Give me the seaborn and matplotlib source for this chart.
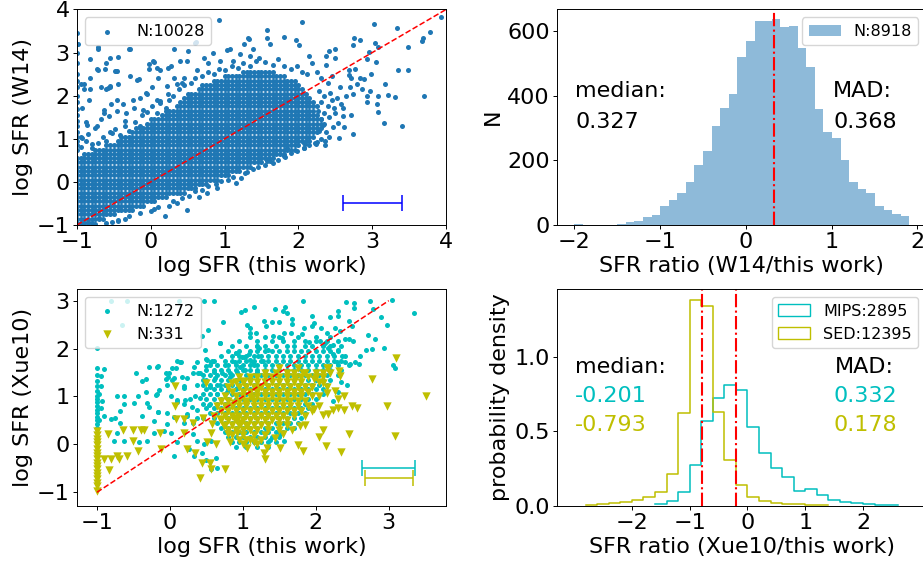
import pandas as pd
import matplotlib
matplotlib.use("Agg")
import matplotlib.pyplot as plt
import matplotlib.patches as mpatches
import seaborn as sns

# ---------------- data: top-left (W14 vs this work) ----------------
w14_label = "N:10028"
# dense core, one list of x values per y row
w14_rows_y = [-0.95, -0.85, -0.75, -0.65, -0.55, -0.45, -0.35, -0.25, -0.15, -0.05,
              0.05, 0.15, 0.25, 0.35, 0.45, 0.55, 0.65, 0.75, 0.85, 0.95, 1.05, 1.15,
              1.25, 1.35, 1.45, 1.55, 1.65, 1.75, 1.85, 1.95, 2.05, 2.15, 2.25, 2.35,
              2.45, 2.55]
w14_rows_x = [
    [-1, -.95, -.9, -.85, -.8],
    [-1, -.95, -.9, -.85, -.8, -.75, -.7, -.65],
    [-1, -.95, -.9, -.85, -.8, -.75, -.7, -.65, -.6, -.55, -.5],
    [-1, -.95, -.9, -.85, -.8, -.75, -.7, -.65, -.6, -.55, -.5, -.45, -.4, -.35, -.3, -.25],
    [-1, -.95, -.9, -.85, -.8, -.75, -.7, -.65, -.6, -.55, -.5, -.45, -.4, -.35, -.3, -.25, -.2, -.15, -.1],
    [-1, -.95, -.9, -.85, -.8, -.75, -.7, -.65, -.6, -.55, -.5, -.45, -.4, -.35, -.3, -.25, -.2, -.15, -.1,
     -.05, 0, .05],
    [-1, -.95, -.9, -.85, -.8, -.75, -.7, -.65, -.6, -.55, -.5, -.45, -.4, -.35, -.3, -.25, -.2, -.15, -.1,
     -.05, 0, .05, .1, .15, .2],
    [-1, -.95, -.9, -.85, -.8, -.75, -.7, -.65, -.6, -.55, -.5, -.45, -.4, -.35, -.3, -.25, -.2, -.15, -.1,
     -.05, 0, .05, .1, .15, .2, .25, .3, .35, .4, .45],
    [-1, -.95, -.9, -.85, -.8, -.75, -.7, -.65, -.6, -.55, -.5, -.45, -.4, -.35, -.3, -.25, -.2, -.15, -.1,
     -.05, 0, .05, .1, .15, .2, .25, .3, .35, .4, .45, .5, .55, .6],
    [-1, -.95, -.9, -.85, -.8, -.75, -.7, -.65, -.6, -.55, -.5, -.45, -.4, -.35, -.3, -.25, -.2, -.15, -.1,
     -.05, 0, .05, .1, .15, .2, .25, .3, .35, .4, .45, .5, .55, .6, .65, .7, .75],
    [-1, -.95, -.9, -.85, -.8, -.75, -.7, -.65, -.6, -.55, -.5, -.45, -.4, -.35, -.3, -.25, -.2, -.15, -.1,
     -.05, 0, .05, .1, .15, .2, .25, .3, .35, .4, .45, .5, .55, .6, .65, .7, .75, .8, .85, .9],
    [-1, -.95, -.9, -.85, -.8, -.75, -.7, -.65, -.6, -.55, -.5, -.45, -.4, -.35, -.3, -.25, -.2, -.15, -.1,
     -.05, 0, .05, .1, .15, .2, .25, .3, .35, .4, .45, .5, .55, .6, .65, .7, .75, .8, .85, .9, .95, 1,
     1.05],
    [-1, -.95, -.9, -.85, -.8, -.75, -.7, -.65, -.6, -.55, -.5, -.45, -.4, -.35, -.3, -.25, -.2, -.15, -.1,
     -.05, 0, .05, .1, .15, .2, .25, .3, .35, .4, .45, .5, .55, .6, .65, .7, .75, .8, .85, .9, .95, 1,
     1.05, 1.1, 1.15, 1.2],
    [-1, -.95, -.9, -.85, -.8, -.75, -.7, -.65, -.6, -.55, -.5, -.45, -.4, -.35, -.3, -.25, -.2, -.15, -.1,
     -.05, 0, .05, .1, .15, .2, .25, .3, .35, .4, .45, .5, .55, .6, .65, .7, .75, .8, .85, .9, .95, 1,
     1.05, 1.1, 1.15, 1.2, 1.25, 1.3, 1.35],
    [-1, -.95, -.9, -.85, -.8, -.75, -.7, -.65, -.6, -.55, -.5, -.45, -.4, -.35, -.3, -.25, -.2, -.15, -.1,
     -.05, 0, .05, .1, .15, .2, .25, .3, .35, .4, .45, .5, .55, .6, .65, .7, .75, .8, .85, .9, .95, 1,
     1.05, 1.1, 1.15, 1.2, 1.25, 1.3, 1.35, 1.4, 1.45, 1.5],
    [-1, -.95, -.9, -.85, -.8, -.75, -.7, -.65, -.6, -.55, -.5, -.45, -.4, -.35, -.3, -.25, -.2, -.15, -.1,
     -.05, 0, .05, .1, .15, .2, .25, .3, .35, .4, .45, .5, .55, .6, .65, .7, .75, .8, .85, .9, .95, 1,
     1.05, 1.1, 1.15, 1.2, 1.25, 1.3, 1.35, 1.4, 1.45, 1.5, 1.55, 1.6, 1.65],
    [-.9, -.85, -.8, -.75, -.7, -.65, -.6, -.55, -.5, -.45, -.4, -.35, -.3, -.25, -.2, -.15, -.1,
     -.05, 0, .05, .1, .15, .2, .25, .3, .35, .4, .45, .5, .55, .6, .65, .7, .75, .8, .85, .9, .95, 1,
     1.05, 1.1, 1.15, 1.2, 1.25, 1.3, 1.35, 1.4, 1.45, 1.5, 1.55, 1.6, 1.65, 1.7, 1.75, 1.8],
    [-.75, -.7, -.65, -.6, -.55, -.5, -.45, -.4, -.35, -.3, -.25, -.2, -.15, -.1,
     -.05, 0, .05, .1, .15, .2, .25, .3, .35, .4, .45, .5, .55, .6, .65, .7, .75, .8, .85, .9, .95, 1,
     1.05, 1.1, 1.15, 1.2, 1.25, 1.3, 1.35, 1.4, 1.45, 1.5, 1.55, 1.6, 1.65, 1.7, 1.75, 1.8, 1.85, 1.9,
     1.95],
    [-.6, -.55, -.5, -.45, -.4, -.35, -.3, -.25, -.2, -.15, -.1,
     -.05, 0, .05, .1, .15, .2, .25, .3, .35, .4, .45, .5, .55, .6, .65, .7, .75, .8, .85, .9, .95, 1,
     1.05, 1.1, 1.15, 1.2, 1.25, 1.3, 1.35, 1.4, 1.45, 1.5, 1.55, 1.6, 1.65, 1.7, 1.75, 1.8, 1.85, 1.9,
     1.95, 2],
    [-.45, -.4, -.35, -.3, -.25, -.2, -.15, -.1,
     -.05, 0, .05, .1, .15, .2, .25, .3, .35, .4, .45, .5, .55, .6, .65, .7, .75, .8, .85, .9, .95, 1,
     1.05, 1.1, 1.15, 1.2, 1.25, 1.3, 1.35, 1.4, 1.45, 1.5, 1.55, 1.6, 1.65, 1.7, 1.75, 1.8, 1.85, 1.9,
     1.95, 2, 2.05, 2.1, 2.15],
    [-.4, -.35, -.3, -.25, -.2, -.15, -.1,
     -.05, 0, .05, .1, .15, .2, .25, .3, .35, .4, .45, .5, .55, .6, .65, .7, .75, .8, .85, .9, .95, 1,
     1.05, 1.1, 1.15, 1.2, 1.25, 1.3, 1.35, 1.4, 1.45, 1.5, 1.55, 1.6, 1.65, 1.7, 1.75, 1.8, 1.85, 1.9,
     1.95, 2, 2.05, 2.1, 2.15, 2.2],
    [-.25, -.2, -.15, -.1,
     -.05, 0, .05, .1, .15, .2, .25, .3, .35, .4, .45, .5, .55, .6, .65, .7, .75, .8, .85, .9, .95, 1,
     1.05, 1.1, 1.15, 1.2, 1.25, 1.3, 1.35, 1.4, 1.45, 1.5, 1.55, 1.6, 1.65, 1.7, 1.75, 1.8, 1.85, 1.9,
     1.95, 2, 2.05, 2.1, 2.15, 2.2, 2.25],
    [-.2, -.15, -.1,
     -.05, 0, .05, .1, .15, .2, .25, .3, .35, .4, .45, .5, .55, .6, .65, .7, .75, .8, .85, .9, .95, 1,
     1.05, 1.1, 1.15, 1.2, 1.25, 1.3, 1.35, 1.4, 1.45, 1.5, 1.55, 1.6, 1.65, 1.7, 1.75, 1.8, 1.85, 1.9,
     1.95, 2, 2.05, 2.1, 2.15, 2.2, 2.25, 2.3],
    [-.05, 0, .05, .1, .15, .2, .25, .3, .35, .4, .45, .5, .55, .6, .65, .7, .75, .8, .85, .9, .95, 1,
     1.05, 1.1, 1.15, 1.2, 1.25, 1.3, 1.35, 1.4, 1.45, 1.5, 1.55, 1.6, 1.65, 1.7, 1.75, 1.8, 1.85, 1.9,
     1.95, 2, 2.05, 2.1, 2.15, 2.2, 2.25, 2.3, 2.35],
    [0, .05, .1, .15, .2, .25, .3, .35, .4, .45, .5, .55, .6, .65, .7, .75, .8, .85, .9, .95, 1,
     1.05, 1.1, 1.15, 1.2, 1.25, 1.3, 1.35, 1.4, 1.45, 1.5, 1.55, 1.6, 1.65, 1.7, 1.75, 1.8, 1.85, 1.9,
     1.95, 2, 2.05, 2.1, 2.15, 2.2, 2.25, 2.3],
    [.15, .2, .25, .3, .35, .4, .45, .5, .55, .6, .65, .7, .75, .8, .85, .9, .95, 1,
     1.05, 1.1, 1.15, 1.2, 1.25, 1.3, 1.35, 1.4, 1.45, 1.5, 1.55, 1.6, 1.65, 1.7, 1.75, 1.8, 1.85, 1.9,
     1.95, 2, 2.05, 2.1, 2.15, 2.2, 2.25],
    [.2, .25, .3, .35, .4, .45, .5, .55, .6, .65, .7, .75, .8, .85, .9, .95, 1,
     1.05, 1.1, 1.15, 1.2, 1.25, 1.3, 1.35, 1.4, 1.45, 1.5, 1.55, 1.6, 1.65, 1.7, 1.75, 1.8, 1.85, 1.9,
     1.95, 2, 2.05, 2.1, 2.15, 2.2],
    [.35, .4, .45, .5, .55, .6, .65, .7, .75, .8, .85, .9, .95, 1,
     1.05, 1.1, 1.15, 1.2, 1.25, 1.3, 1.35, 1.4, 1.45, 1.5, 1.55, 1.6, 1.65, 1.7, 1.75, 1.8, 1.85, 1.9,
     1.95, 2, 2.05, 2.1, 2.15, 2.2, 2.25],
    [.4, .45, .5, .55, .6, .65, .7, .75, .8, .85, .9, .95, 1,
     1.05, 1.1, 1.15, 1.2, 1.25, 1.3, 1.35, 1.4, 1.45, 1.5, 1.55, 1.6, 1.65, 1.7, 1.75, 1.8, 1.85, 1.9,
     1.95, 2, 2.05, 2.1, 2.15, 2.2],
    [.45, .5, .55, .6, .65, .7, .75, .8, .85, .9, .95, 1,
     1.05, 1.1, 1.15, 1.2, 1.25, 1.3, 1.35, 1.4, 1.45, 1.5, 1.55, 1.6, 1.65, 1.7, 1.75, 1.8, 1.85, 1.9,
     1.95, 2, 2.05, 2.1, 2.15],
    [.5, .55, .6, .65, .7, .75, .8, .85, .9, .95, 1,
     1.05, 1.1, 1.15, 1.2, 1.25, 1.3, 1.35, 1.4, 1.45, 1.5, 1.55, 1.6, 1.65, 1.7, 1.75, 1.8, 1.85, 1.9,
     1.95, 2, 2.05, 2.1],
    [.65, .7, .75, .8, .85, .9, .95, 1,
     1.05, 1.1, 1.15, 1.2, 1.25, 1.3, 1.35, 1.4, 1.45, 1.5, 1.55, 1.6, 1.65, 1.7, 1.75, 1.8, 1.85, 1.9,
     1.95, 2, 2.05],
    [.7, .75, .8, .85, .9, .95, 1,
     1.05, 1.1, 1.15, 1.2, 1.25, 1.3, 1.35, 1.4, 1.45, 1.5, 1.55, 1.6, 1.65, 1.7, 1.75, 1.8, 1.85, 1.9,
     1.95, 2],
    [.85, .9, .95, 1,
     1.05, 1.1, 1.15, 1.2, 1.25, 1.3, 1.35, 1.4, 1.45, 1.5, 1.55, 1.6, 1.65, 1.7, 1.75, 1.8, 1.85, 1.9,
     1.95],
    [1, 1.05, 1.1, 1.15, 1.2, 1.25, 1.3, 1.35, 1.4, 1.45, 1.5, 1.55, 1.6, 1.65, 1.7, 1.75, 1.8],
    [1.25, 1.3, 1.35, 1.4, 1.45, 1.5, 1.55, 1.6, 1.65],
]
# scattered points around the core
w14_sparse = [
    (-1, 0.75), (-1, 0.85), (-1, 0.95), (-1, 1.05), (-1, 1.15), (-1, 1.3), (-1, 1.42), (-1, 1.55),
    (-1, 1.7), (-1, 1.85), (-1, 2.0), (-1, 2.2), (-1, 2.35), (-1, 2.5), (-1, 2.75), (-1, 3.0),
    (-1, 3.2), (-1, 3.45),
    (-0.99, 3.19), (-0.82, 2.84), (-0.71, 3.09), (-0.61, 2.76), (-0.44, 2.9), (-0.28, 3.09),
    (-0.95, 2.26), (-0.83, 2.16), (-0.71, 2.6), (-0.55, 2.2), (-0.48, 2.57), (-0.46, 1.91),
    (-0.58, 2.18), (-0.19, 2.37), (0.03, 2.8), (0.12, 2.6), (0.28, 2.68), (0.39, 2.8), (0.51, 3.03),
    (0.61, 3.24), (0.62, 2.6), (0.78, 2.76), (1.03, 3.07), (1.32, 3.34), (0.92, 3.75), (-0.88, 1.4),
    (-0.94, 1.05), (-0.73, 1.29), (-0.64, 1.67), (-0.53, 1.13), (-0.33, 1.6), (-0.24, 1.91),
    (-0.06, 2.06), (-0.1, 1.67), (0.08, 1.91), (0.22, 2.22), (0.31, 2.41), (0.42, 2.29),
    (0.04, 2.78), (0.08, 2.65), (0.24, 2.65), (-0.03, 2.61), (0.1, 2.4), (0.02, 2.19), (-0.05, 2.05),
    (-0.15, 1.95), (-0.23, 1.72), (-0.16, 2.38), (-0.28, 2.46), (-0.46, 2.57), (-0.55, 2.22),
    (-0.6, 2.15), (-0.54, 1.8), (-0.64, 1.6), (-0.57, 1.53), (-0.46, 1.64), (-0.37, 1.8),
    (-0.35, 1.41), (-0.73, 2.61), (-0.82, 2.42), (-0.68, 2.19), (-0.91, 2.26), (-0.84, 1.91),
    (-0.93, 1.72), (-0.86, 1.33), (-0.75, 1.26), (-0.68, 1.45), (-0.93, 1.02), (-0.8, 0.87),
    (0.31, 3.08), (0.49, 2.81), (0.6, 3.23), (0.72, 2.88), (0.84, 3.0), (0.94, 2.81), (1.08, 3.08),
    (1.12, 2.81), (1.26, 3.19), (1.33, 3.31), (1.21, 2.96), (1.35, 2.92), (1.39, 3.08), (1.46, 2.88),
    (-0.71, 3.12), (-0.3, 3.08), (-0.55, 2.88), (-0.62, 2.61), (-0.47, 2.57), (-0.44, 2.26),
    (-0.02, 2.73), (0.45, 2.42), (0.36, 2.26), (0.24, 2.03), (0.13, 1.88), (0.2, 1.72), (-0.91, 2.15),
    (-0.95, 0.8), (-0.88, 0.95), (-0.8, 0.78), (-0.72, 0.9), (-0.65, 1.05), (-0.85, 1.1), (-0.6, 0.95),
    (-0.55, 1.15), (-0.48, 1.22), (-0.42, 1.08), (-0.35, 1.3), (-0.3, 1.18), (-0.22, 1.4),
    (-0.15, 1.3), (-0.12, 1.55), (-0.05, 1.62), (0.02, 1.75), (0.08, 1.6), (0.12, 1.82), (0.25, 1.9),
    (0.3, 2.0), (0.38, 2.15), (0.45, 2.25), (0.55, 2.3), (0.6, 2.4), (0.7, 2.45), (0.78, 2.55),
    (0.85, 2.5), (0.92, 2.62), (1.0, 2.6), (1.1, 2.7), (1.18, 2.65), (1.25, 2.75), (1.35, 2.7),
    (1.42, 2.8), (1.55, 2.78), (1.65, 2.72), (1.72, 2.85), (1.8, 2.68), (1.9, 2.62), (1.98, 2.7),
    (2.05, 2.55), (2.12, 2.5),
    (2.05, 3.70), (1.57, 3.53), (1.57, 3.33), (1.81, 3.36), (1.97, 3.29), (2.01, 3.17), (1.61, 3.19),
    (3.02, 3.66), (3.34, 3.57), (3.93, 3.83), (3.78, 3.47), (3.69, 3.35), (3.67, 3.26), (3.48, 3.14),
    (3.35, 2.59), (3.49, 2.59), (3.70, 1.99), (2.75, 3.33), (2.84, 3.29), (2.74, 3.17), (3.04, 3.23),
    (3.08, 3.13), (2.95, 3.02), (2.93, 2.85), (3.05, 2.79), (2.98, 2.51), (3.17, 2.28), (3.08, 1.99),
    (3.21, 2.01), (3.31, 1.97), (3.06, 1.8), (3.08, 1.63), (3.16, 1.37), (3.4, 1.29), (2.97, 2.11),
    (2.93, 2.0), (2.93, 1.86), (2.74, 1.12), (2.71, 1.55), (2.61, 1.54), (2.55, 1.02), (2.62, 1.27),
    (2.36, 0.85), (2.24, 0.88), (2.41, 1.05), (2.47, 1.27), (2.54, 1.37), (2.5, 3.09), (2.5, 2.88),
    (2.37, 2.71), (2.42, 3.04), (2.15, 2.92), (2.18, 2.77), (2.37, 2.92), (2.69, 2.59), (2.77, 2.63),
    (2.68, 2.47), (2.71, 2.42), (2.83, 2.42), (2.89, 2.38), (2.79, 2.28), (2.86, 2.16), (2.7, 2.19),
    (2.56, 2.19), (2.65, 1.99), (2.74, 2.05), (2.58, 1.8), (2.61, 1.72), (2.52, 1.95), (2.43, 2.07),
    (2.48, 1.72), (2.3, 1.45), (2.35, 1.6), (2.4, 1.75), (2.3, 1.85), (2.45, 1.9), (2.35, 2.0),
    (2.28, 2.12), (2.4, 2.3), (2.3, 2.4), (2.25, 2.55), (2.45, 2.45), (2.33, 1.32), (2.42, 1.5),
    (2.27, 1.65), (2.5, 1.6), (2.38, 1.15), (2.28, 1.18),
    (-0.45, -0.88), (-0.3, -0.78), (-0.15, -0.72), (0.0, -0.68), (0.1, -0.58), (0.25, -0.55),
    (0.3, -0.45), (0.42, -0.38), (0.52, -0.32), (0.6, -0.22), (0.7, -0.18), (0.78, -0.1),
    (0.88, -0.05), (0.95, 0.02), (1.05, 0.05), (1.12, 0.12), (1.22, 0.1), (1.3, 0.22), (1.38, 0.3),
    (1.45, 0.35), (1.55, 0.4), (1.62, 0.48), (1.72, 0.5), (1.82, 0.58), (1.9, 0.68), (1.98, 0.72),
    (2.08, 0.78), (2.15, 0.86), (2.25, 0.92), (2.3, 1.0), (0.49, -0.65), (0.19, -0.79),
    (-0.45, -0.9), (-0.7, -0.84), (0.76, -0.26), (1.28, 0.2), (1.66, 0.43), (1.8, 0.59), (2.07, 0.9),
    (2.22, 0.9), (2.36, 0.94), (1.57, 0.48), (1.84, 0.79), (2.07, 0.79), (2.09, 0.87),
    (-0.6, -0.95), (-0.52, -0.92), (-0.75, -0.97), (-0.85, -0.93), (-0.35, -0.85), (0.05, -0.62),
    (0.35, -0.5), (0.65, -0.35), (0.9, -0.15), (1.15, -0.02),
]
w14_err_center = (3.0, -0.5)
w14_err_half = 0.4
diag1 = [-1, 4]
ticks1 = [-1, 0, 1, 2, 3, 4]

# ---------------- data: top-right (ratio histogram) ----------------
w14_ratio_label = "N:8918"
w14_ratio_start = -1.995
w14_ratio_width = 0.1
w14_ratio_counts = [2, 1, 1, 1, 1, 2, 8, 12, 24, 30, 58, 77, 99, 134, 187, 228, 307, 363, 406,
                    520, 570, 632, 632, 638, 614, 617, 549, 490, 360, 288, 270, 201, 134, 110,
                    98, 60, 46, 33, 28]
w14_median = 0.327
w14_mad = 0.368
ticks2_x = [-2, -1, 0, 1, 2]
ticks2_y = [0, 200, 400, 600]

# ---------------- data: bottom-left (Xue10 vs this work) ----------------
mips_label = "N:1272"
sed_label = "N:331"
cyan_rows_y = [2.25, 2.15, 2.05, 1.95, 1.85, 1.75, 1.65, 1.55, 1.45, 1.35, 1.25, 1.15, 1.05,
               0.95, 0.85, 0.75, 0.65, 0.55, 0.45, 0.35, 0.25, 0.15, 0.05, -0.05]
cyan_rows_x = [
    [1.1, 1.3, 1.5, 1.75, 2.0, 2.2],
    [0.95, 1.2, 1.4, 1.55, 1.7, 1.85, 2.0, 2.15, 2.3],
    [0.85, 1.05, 1.2, 1.3, 1.45, 1.6, 1.7, 1.85, 1.95, 2.1, 2.2, 2.35],
    [0.8, 0.95, 1.1, 1.2, 1.3, 1.4, 1.5, 1.6, 1.7, 1.8, 1.9, 2.0, 2.1, 2.2, 2.3],
    [0.7, 0.85, 0.95, 1.05, 1.15, 1.25, 1.35, 1.45, 1.55, 1.65, 1.75, 1.85, 1.95, 2.05, 2.15, 2.25, 2.4],
    [0.6, 0.75, 0.85, 0.95, 1.05, 1.15, 1.25, 1.35, 1.45, 1.55, 1.65, 1.75, 1.85, 1.95, 2.05, 2.15, 2.25,
     2.35],
    [0.55, 0.65, 0.8, 0.9, 1.0, 1.1, 1.2, 1.3, 1.4, 1.5, 1.6, 1.7, 1.8, 1.9, 2.0, 2.1, 2.2, 2.3, 2.45],
    [0.5, 0.6, 0.7, 0.8, 0.9, 1.0, 1.1, 1.2, 1.3, 1.4, 1.5, 1.6, 1.7, 1.8, 1.9, 2.0, 2.1, 2.2, 2.35],
    [0.45, 0.55, 0.65, 0.75, 0.85, 0.95, 1.05, 1.15, 1.25, 1.35, 1.45, 1.55, 1.65, 1.75, 1.85, 1.95, 2.05,
     2.15, 2.3],
    [0.5, 0.6, 0.7, 0.8, 0.9, 1.0, 1.1, 1.2, 1.3, 1.4, 1.5, 1.6, 1.7, 1.8, 1.9, 2.0, 2.1, 2.2],
    [0.45, 0.55, 0.65, 0.75, 0.85, 0.95, 1.05, 1.15, 1.25, 1.35, 1.45, 1.55, 1.65, 1.75, 1.85, 1.95, 2.05,
     2.15],
    [0.5, 0.6, 0.7, 0.8, 0.9, 1.0, 1.1, 1.2, 1.3, 1.4, 1.5, 1.6, 1.7, 1.8, 1.9, 2.0, 2.1],
    [0.45, 0.55, 0.65, 0.75, 0.85, 0.95, 1.05, 1.15, 1.25, 1.35, 1.45, 1.55, 1.65, 1.75, 1.85, 1.95, 2.1],
    [0.5, 0.6, 0.7, 0.8, 0.9, 1.0, 1.1, 1.2, 1.3, 1.4, 1.5, 1.6, 1.7, 1.8, 1.9, 2.0],
    [0.45, 0.55, 0.65, 0.75, 0.85, 0.95, 1.05, 1.15, 1.25, 1.35, 1.45, 1.55, 1.65, 1.75, 1.85, 1.95],
    [0.5, 0.6, 0.7, 0.8, 0.9, 1.0, 1.1, 1.2, 1.3, 1.4, 1.5, 1.6, 1.7, 1.8, 1.9],
    [0.55, 0.65, 0.75, 0.85, 0.95, 1.05, 1.15, 1.25, 1.35, 1.45, 1.55, 1.65, 1.75, 1.85],
    [0.6, 0.7, 0.8, 0.9, 1.0, 1.1, 1.2, 1.3, 1.4, 1.5, 1.6, 1.7, 1.8],
    [0.65, 0.75, 0.85, 0.95, 1.05, 1.15, 1.25, 1.35, 1.45, 1.55, 1.65, 1.75],
    [0.7, 0.8, 0.9, 1.0, 1.1, 1.2, 1.3, 1.4, 1.5, 1.6, 1.7],
    [0.75, 0.85, 0.95, 1.05, 1.15, 1.25, 1.35, 1.45, 1.55],
    [0.8, 0.9, 1.0, 1.1, 1.2, 1.3, 1.4, 1.5],
    [0.85, 0.95, 1.05, 1.15, 1.25, 1.35],
    [0.9, 1.05, 1.2, 1.35],
]
cyan_sparse = [
    (-0.81, 2.99), (-0.59, 2.99), (0.13, 2.99), (-0.65, 2.49), (-1.0, 2.02),
    (0.47, 3.0), (0.60, 2.99), (1.03, 2.81), (0.97, 2.76), (1.15, 2.87), (0.73, 2.55), (1.06, 2.49),
    (1.1, 2.44), (0.52, 2.38), (0.44, 2.26), (0.69, 2.11), (1.22, 2.02), (0.9, 1.91), (1.01, 1.82),
    (1.14, 1.72), (0.49, 1.79), (0.5, 1.64), (0.58, 1.74), (0.33, 1.62), (0.38, 1.48), (0.15, 1.72),
    (0.08, 1.6), (-0.01, 1.48), (-0.17, 1.64), (-0.29, 1.62), (-0.46, 1.48), (-0.33, 1.37),
    (-0.38, 1.32), (-0.05, 1.37), (0.05, 1.39), (0.17, 1.41), (0.19, 1.22), (-0.04, 1.23),
    (-0.15, 1.13), (-0.33, 1.09), (-0.44, 1.01), (-0.63, 1.02), (-0.72, 1.02), (-0.19, 1.04),
    (0.02, 1.01), (0.1, 0.93), (0.19, 0.84), (0.28, 0.94), (0.34, 1.01), (-0.32, 0.87),
    (-0.49, 0.87), (-0.63, 0.84), (-0.29, 0.77), (-0.17, 0.68), (-0.68, 0.7), (-0.75, 0.56),
    (-0.81, 0.52), (-0.68, 0.45), (-0.38, 0.59), (-0.22, 0.49), (-0.22, 0.24), (-0.32, 0.07),
    (-0.42, 0.04), (-0.63, 0.07), (-0.76, 0.07), (-0.73, 0.24), (-0.04, 0.42), (-0.08, 0.28),
    (0.01, 0.24), (0.1, 0.04), (0.05, -0.24), (0.31, 0.21), (0.37, 0.07), (0.26, -0.1),
    (0.33, -0.24), (0.44, -0.17), (0.57, -0.51), (0.65, -0.49), (0.49, -0.32), (0.63, -0.29),
    (0.47, 0.0), (0.56, 0.07), (0.19, 0.45), (0.24, 0.63), (0.37, 0.56), (0.31, 0.44),
    (1.1, 2.33), (1.18, 2.33), (0.69, 2.11), (1.2, 2.05), (1.35, 1.97), (0.48, 1.96), (0.91, 1.9),
    (1.08, 1.89), (1.21, 1.85), (0.99, 1.82), (0.37, 1.73), (0.51, 1.76), (0.57, 1.71), (0.1, 1.75),
    (0.14, 1.73), (0.89, 1.73), (1.1, 1.76), (1.28, 1.75), (-0.18, 1.62), (0.03, 1.59), (0.76, 1.66),
    (0.96, 1.62), (1.15, 1.66), (-0.05, 1.5), (0.32, 1.5), (0.41, 1.5), (0.6, 1.52), (0.71, 1.5),
    (0.83, 1.48), (0.92, 1.52), (1.03, 1.55), (1.19, 1.52), (-0.02, 1.41), (0.03, 1.34), (0.23, 1.38),
    (0.46, 1.34), (0.62, 1.38), (0.83, 1.41), (0.96, 1.34), (1.1, 1.38), (-0.18, 1.06), (0.19, 1.17),
    (0.37, 1.24), (0.55, 1.2), (0.69, 1.24), (0.64, 1.06), (0.78, 1.1), (0.92, 1.17), (0.21, 0.93),
    (0.1, 0.89), (0.41, 0.96), (0.3, 0.79), (0.53, 0.82), (0.37, 0.72), (-0.16, 0.68), (-0.04, 0.66),
    (0.05, 0.58), (0.23, 0.59), (0.46, 0.56),
    (-1, 1.6), (-1, 1.45), (-1, 1.32), (-1, 1.22), (-1, 1.12), (-1, 1.02), (-1, 0.95), (-1, 0.88),
    (-1, 0.8), (-1, 0.72), (-1, 0.65), (-1, 0.58), (-1, 0.5), (-1, 0.42), (-1, 0.35),
    (-0.95, 1.43), (-0.95, 1.22), (-0.93, 0.9), (-0.9, 0.6), (-0.95, 0.75), (-0.97, 0.5),
    (-0.9, 1.58), (-0.97, 1.05),
    (1.82, 2.99), (2.42, 2.97), (2.52, 2.96), (2.74, 2.99), (3.05, 3.01), (3.35, 2.75), (2.53, 2.84),
    (1.44, 2.82), (1.58, 2.87), (1.55, 2.78), (1.6, 2.75), (1.95, 2.68), (1.97, 2.54), (2.31, 2.78),
    (2.31, 2.68), (2.2, 2.65), (2.45, 2.58), (2.49, 2.47), (2.79, 2.83), (2.9, 2.65), (2.98, 2.49),
    (1.29, 2.58), (1.32, 2.47), (1.4, 2.55), (1.49, 2.55), (1.67, 2.61), (1.68, 2.51), (1.84, 2.44),
    (1.95, 2.47), (2.07, 2.44), (2.16, 2.33), (2.26, 2.44), (2.33, 2.37), (2.4, 2.19), (2.46, 2.19),
    (2.51, 2.16), (2.72, 2.28), (2.81, 2.19), (2.94, 2.02), (3.06, 1.65), (3.09, 1.6), (2.77, 2.0),
    (2.69, 1.98), (2.61, 1.84), (1.42, 2.26), (1.53, 2.23), (1.56, 2.33), (1.66, 2.33), (1.81, 2.3),
    (1.91, 2.14), (2.06, 2.16), (2.13, 2.12), (2.17, 2.02), (2.24, 2.07), (2.31, 1.98), (2.36, 1.84),
    (2.23, 1.88), (2.29, 1.71), (2.4, 1.71), (2.47, 1.67), (2.54, 1.71), (2.59, 1.67), (2.43, 1.25),
    (1.31, 0.24), (1.37, 0.1), (1.46, 0.04), (1.57, 0.07), (1.51, 0.21), (2.24, 0.9), (2.3, 1.1),
    (2.35, 1.3),
]
yel_rows_y = [1.6, 1.5, 1.4, 1.3, 1.2, 1.1, 1.0, 0.9, 0.8, 0.7, 0.6, 0.5, 0.4, 0.3, 0.2, 0.1, 0.0]
yel_rows_x = [
    [1.5, 1.75, 2.15],
    [1.3, 1.45, 1.6, 1.7, 1.85, 2.0, 2.2],
    [0.95, 1.1, 1.2, 1.3, 1.4, 1.5, 1.6, 1.7, 1.8, 1.9, 2.0, 2.1],
    [0.9, 1.0, 1.1, 1.2, 1.3, 1.4, 1.5, 1.6, 1.7, 1.8, 2.05],
    [0.8, 0.95, 1.05, 1.15, 1.25, 1.35, 1.45, 1.55, 1.65, 1.75, 1.85, 1.95, 2.15],
    [0.85, 1.0, 1.1, 1.2, 1.3, 1.4, 1.5, 1.6, 1.7, 1.8, 1.9],
    [0.75, 0.9, 1.0, 1.1, 1.2, 1.3, 1.4, 1.5, 1.6, 1.7, 1.8, 1.95, 2.05],
    [0.7, 0.8, 0.95, 1.05, 1.15, 1.25, 1.35, 1.45, 1.55, 1.65, 1.75, 1.85],
    [0.65, 0.75, 0.85, 0.95, 1.05, 1.15, 1.25, 1.35, 1.45, 1.55, 1.65, 1.75, 1.9, 2.05],
    [0.7, 0.8, 0.9, 1.0, 1.1, 1.2, 1.3, 1.4, 1.5, 1.6, 1.7, 1.8, 1.95],
    [0.6, 0.75, 0.85, 0.95, 1.05, 1.15, 1.25, 1.35, 1.45, 1.55, 1.7, 1.85],
    [0.7, 0.8, 0.9, 1.0, 1.1, 1.2, 1.3, 1.4, 1.5, 1.6],
    [0.75, 0.85, 0.95, 1.05, 1.15, 1.25, 1.35, 1.5, 1.6, 1.85],
    [0.8, 0.9, 1.0, 1.1, 1.2, 1.35, 1.5],
    [0.85, 1.0, 1.15, 1.3],
    [0.95, 1.1, 1.25],
    [1.0, 1.2],
]
yel_sparse = [
    (-1, 0.28), (-1, 0.2), (-1, 0.12), (-1, 0.05), (-1, -0.02), (-1, -0.1), (-1, -0.17),
    (-1, -0.24), (-1, -0.31), (-1, -0.38), (-1, -0.45), (-1, -0.52), (-1, -0.59), (-1, -0.66),
    (-1, -0.73), (-1, -0.8), (-1, -0.87), (-1, -0.97),
    (-0.85, 0.21), (-0.9, -0.31), (-0.84, -0.54), (-0.81, -0.31), (-0.73, -0.24), (-0.7, -0.31),
    (-0.59, -0.24), (-0.64, 0.31), (-0.5, 0.31), (-0.4, 0.31), (-0.36, 0.31), (-0.5, 0.07),
    (-0.44, -0.14), (-0.13, 0.24), (-0.12, -0.1), (0.07, 1.22), (0.07, 0.8), (0.08, 0.52),
    (0.2, 0.52), (0.19, 0.24), (0.31, 0.45), (0.24, -0.1), (0.35, -0.17), (0.44, -0.38),
    (0.55, -0.38), (0.56, -0.52), (0.41, -0.7), (0.76, -0.52), (0.49, 1.29), (0.46, 0.56),
    (0.58, 0.42), (0.56, 0.24), (0.51, 0.04), (0.63, 0.0), (0.69, 0.52), (0.74, 0.38), (0.79, 0.21),
    (0.85, 1.29), (1.01, 1.32), (0.88, 0.56), (0.97, 0.45), (1.06, 0.38), (0.92, 0.24), (1.04, 0.1),
    (0.83, 0.04), (1.06, -0.07), (1.15, 0.04), (0.88, 0.87), (1.04, 0.84), (1.13, 0.97), (1.2, 1.15),
    (3.1, 1.81), (2.77, 1.36), (3.51, 1.01), (2.97, 0.81), (3.09, 0.17), (2.45, 0.21), (2.34, -0.15),
    (2.14, -0.03), (2.04, 0.15), (2.1, 0.31), (1.82, -0.14), (1.76, -0.02), (1.79, 0.38),
    (1.67, 0.31), (1.51, -0.07), (1.44, 0.14), (1.33, -0.07), (1.31, -0.3), (1.29, -0.17),
    (1.55, 0.21), (2.49, 0.81), (2.56, 0.75), (2.38, 0.72), (2.31, 0.75), (2.23, 0.72), (2.17, 0.63),
    (2.1, 0.61), (2.38, 1.01), (2.31, 0.94), (2.26, 1.11), (2.15, 1.08), (2.33, 1.43), (2.32, 1.53),
    (2.17, 1.6), (2.1, 1.5), (1.97, 1.36), (1.83, 1.48), (1.72, 1.36), (1.97, 0.73), (2.1, 1.29),
]
mips_err_center = (3.0, -0.5)
mips_err_half = 0.365
sed_err_center = (3.0, -0.7)
sed_err_half = 0.33
diag3 = [-1, 3]
ticks3_x = [-1, 0, 1, 2, 3]
ticks3_y = [-1, 0, 1, 2, 3]

# ---------------- data: bottom-right (ratio density histograms) ----------------
mips_hist_label = "MIPS:2895"
sed_hist_label = "SED:12395"
mips_hist_start = -1.6
sed_hist_start = -2.8
xue_hist_width = 0.2
mips_density = [0.007, 0.03, 0.092, 0.272, 0.569, 0.726, 0.811, 0.775, 0.53, 0.351, 0.25, 0.193,
                0.099, 0.108, 0.07, 0.036, 0.025, 0.016, 0.007, 0.005, 0.004]
sed_density = [0.005, 0.008, 0.015, 0.025, 0.036, 0.056, 0.09, 0.213, 0.625, 1.385, 1.344, 0.632,
               0.305, 0.135, 0.057, 0.028, 0.019, 0.011, 0.009, 0.006, 0.003]
mips_median, sed_median = -0.201, -0.793
mips_mad, sed_mad = 0.332, 0.178
ticks4_x = [-2, -1, 0, 1, 2]
ticks4_y = [0.0, 0.5, 1.0]

# ---------------- style ----------------
plt.rcParams["font.family"] = ["DejaVu Sans"]
plt.rcParams.update({
    "xtick.labelsize": 16, "ytick.labelsize": 16, "axes.labelsize": 16,
    "legend.fontsize": 11.5, "axes.linewidth": 0.7,
    "xtick.major.width": 0.7, "ytick.major.width": 0.7,
    "xtick.major.size": 2.6, "ytick.major.size": 2.6,
    "xtick.major.pad": 2.6, "ytick.major.pad": 2.6, "axes.labelpad": 3.0,
})
BLUE = "#1f77b4"

fig = plt.figure(figsize=(9.23, 5.65), dpi=100)
ax1 = fig.add_axes([0.0834, 0.6018, 0.3998, 0.3814])
ax2 = fig.add_axes([0.6035, 0.6018, 0.3998, 0.3814])
ax3 = fig.add_axes([0.0834, 0.1053, 0.3998, 0.3827])
ax4 = fig.add_axes([0.6035, 0.1053, 0.3998, 0.3827])

# ---- top-left
w14_x = [x for xs in w14_rows_x for x in xs] + [p[0] for p in w14_sparse]
w14_y = [y for y, xs in zip(w14_rows_y, w14_rows_x) for _ in xs] + [p[1] for p in w14_sparse]
sns.scatterplot(x=w14_x, y=w14_y, ax=ax1, color=BLUE, s=13, linewidth=0, label=w14_label)
ax1.plot(diag1, diag1, color="red", linestyle="--", linewidth=1.1)
ax1.errorbar([w14_err_center[0]], [w14_err_center[1]], xerr=[w14_err_half], color="blue",
             capsize=6, linewidth=1.1, capthick=1.1)
ax1.set_xlim(-1, 4)
ax1.set_ylim(-1, 4)
ax1.set_xticks(ticks1)
ax1.set_yticks(ticks1)
ax1.set_xlabel("log SFR (this work)")
ax1.set_ylabel("log SFR (W14)")
ax1.legend(loc="upper left")

# ---- top-right
edges2 = [w14_ratio_start + w14_ratio_width * k for k in range(len(w14_ratio_counts) + 1)]
df2 = pd.DataFrame({"ratio": [e + w14_ratio_width / 2 for e in edges2[:-1]],
                    "count": w14_ratio_counts})
sns.histplot(data=df2, x="ratio", weights="count", bins=edges2, ax=ax2, color=BLUE,
             alpha=0.5, linewidth=0)
ax2.axvline(w14_median, color="red", linestyle="-.", linewidth=1.5)
ax2.set_xlim(-2.195, 2.1)
ax2.set_ylim(0, 668)
ax2.set_xticks(ticks2_x)
ax2.set_yticks(ticks2_y)
ax2.set_xlabel("SFR ratio (W14/this work)")
ax2.set_ylabel("N")
ax2.text(0.049, 0.595, "median:", transform=ax2.transAxes, fontsize=16, va="baseline")
ax2.text(0.049, 0.449, f"{w14_median:.3f}", transform=ax2.transAxes, fontsize=16, va="baseline")
ax2.text(0.748, 0.595, "MAD:", transform=ax2.transAxes, fontsize=16, va="baseline")
ax2.text(0.748, 0.449, f"{w14_mad:.3f}", transform=ax2.transAxes, fontsize=16, va="baseline")
ax2.legend(handles=[mpatches.Patch(facecolor=BLUE, alpha=0.5, label=w14_ratio_label)],
           loc="upper right")

# ---- bottom-left
c_x = [x for xs in cyan_rows_x for x in xs] + [p[0] for p in cyan_sparse]
c_y = [y for y, xs in zip(cyan_rows_y, cyan_rows_x) for _ in xs] + [p[1] for p in cyan_sparse]
y_x = [x for xs in yel_rows_x for x in xs] + [p[0] for p in yel_sparse]
y_y = [y for y, xs in zip(yel_rows_y, yel_rows_x) for _ in xs] + [p[1] for p in yel_sparse]
sns.scatterplot(x=c_x, y=c_y, ax=ax3, color="c", s=13, linewidth=0, label=mips_label)
sns.scatterplot(x=y_x, y=y_y, ax=ax3, color="y", marker="v", s=36, linewidth=0, label=sed_label)
ax3.plot(diag3, diag3, color="red", linestyle="--", linewidth=1.1)
ax3.errorbar([mips_err_center[0]], [mips_err_center[1]], xerr=[mips_err_half], color="c",
             capsize=6, linewidth=1.1, capthick=1.1)
ax3.errorbar([sed_err_center[0]], [sed_err_center[1]], xerr=[sed_err_half], color="y",
             capsize=6, linewidth=1.1, capthick=1.1)
ax3.set_xlim(-1.274, 3.785)
ax3.set_ylim(-1.276, 3.238)
ax3.set_xticks(ticks3_x)
ax3.set_yticks(ticks3_y)
ax3.set_xlabel("log SFR (this work)")
ax3.set_ylabel("log SFR (Xue10)")
ax3.legend(loc="upper left")

# ---- bottom-right
edges_m = [mips_hist_start + xue_hist_width * k for k in range(len(mips_density) + 1)]
edges_s = [sed_hist_start + xue_hist_width * k for k in range(len(sed_density) + 1)]
df_m = pd.DataFrame({"ratio": [e + xue_hist_width / 2 for e in edges_m[:-1]], "dens": mips_density})
df_s = pd.DataFrame({"ratio": [e + xue_hist_width / 2 for e in edges_s[:-1]], "dens": sed_density})
sns.histplot(data=df_m, x="ratio", weights="dens", bins=edges_m, ax=ax4,
             element="step", fill=False, color="c", linewidth=1.1)
sns.histplot(data=df_s, x="ratio", weights="dens", bins=edges_s, ax=ax4,
             element="step", fill=False, color="y", linewidth=1.1)
ax4.axvline(sed_median, color="red", linestyle="-.", linewidth=1.5)
ax4.axvline(mips_median, color="red", linestyle="-.", linewidth=1.5)
ax4.set_xlim(-3.294, 3.09)
ax4.set_ylim(0, 1.4565)
ax4.set_xticks(ticks4_x)
ax4.set_yticks(ticks4_y)
ax4.set_xlabel("SFR ratio (Xue10/this work)")
ax4.set_ylabel("probability density")
ax4.text(0.049, 0.614, "median:", transform=ax4.transAxes, fontsize=16, va="baseline")
ax4.text(0.049, 0.480, f"{mips_median:.3f}", transform=ax4.transAxes, fontsize=16,
         va="baseline", color="c")
ax4.text(0.049, 0.346, f"{sed_median:.3f}", transform=ax4.transAxes, fontsize=16,
         va="baseline", color="y")
ax4.text(0.753, 0.614, "MAD:", transform=ax4.transAxes, fontsize=16, va="baseline")
ax4.text(0.748, 0.480, f"{mips_mad:.3f}", transform=ax4.transAxes, fontsize=16,
         va="baseline", color="c")
ax4.text(0.748, 0.346, f"{sed_mad:.3f}", transform=ax4.transAxes, fontsize=16,
         va="baseline", color="y")
ax4.legend(handles=[mpatches.Patch(facecolor="none", edgecolor="c", label=mips_hist_label),
                    mpatches.Patch(facecolor="none", edgecolor="y", label=sed_hist_label)],
           loc="upper right")

fig.savefig("out.png", dpi=100)
